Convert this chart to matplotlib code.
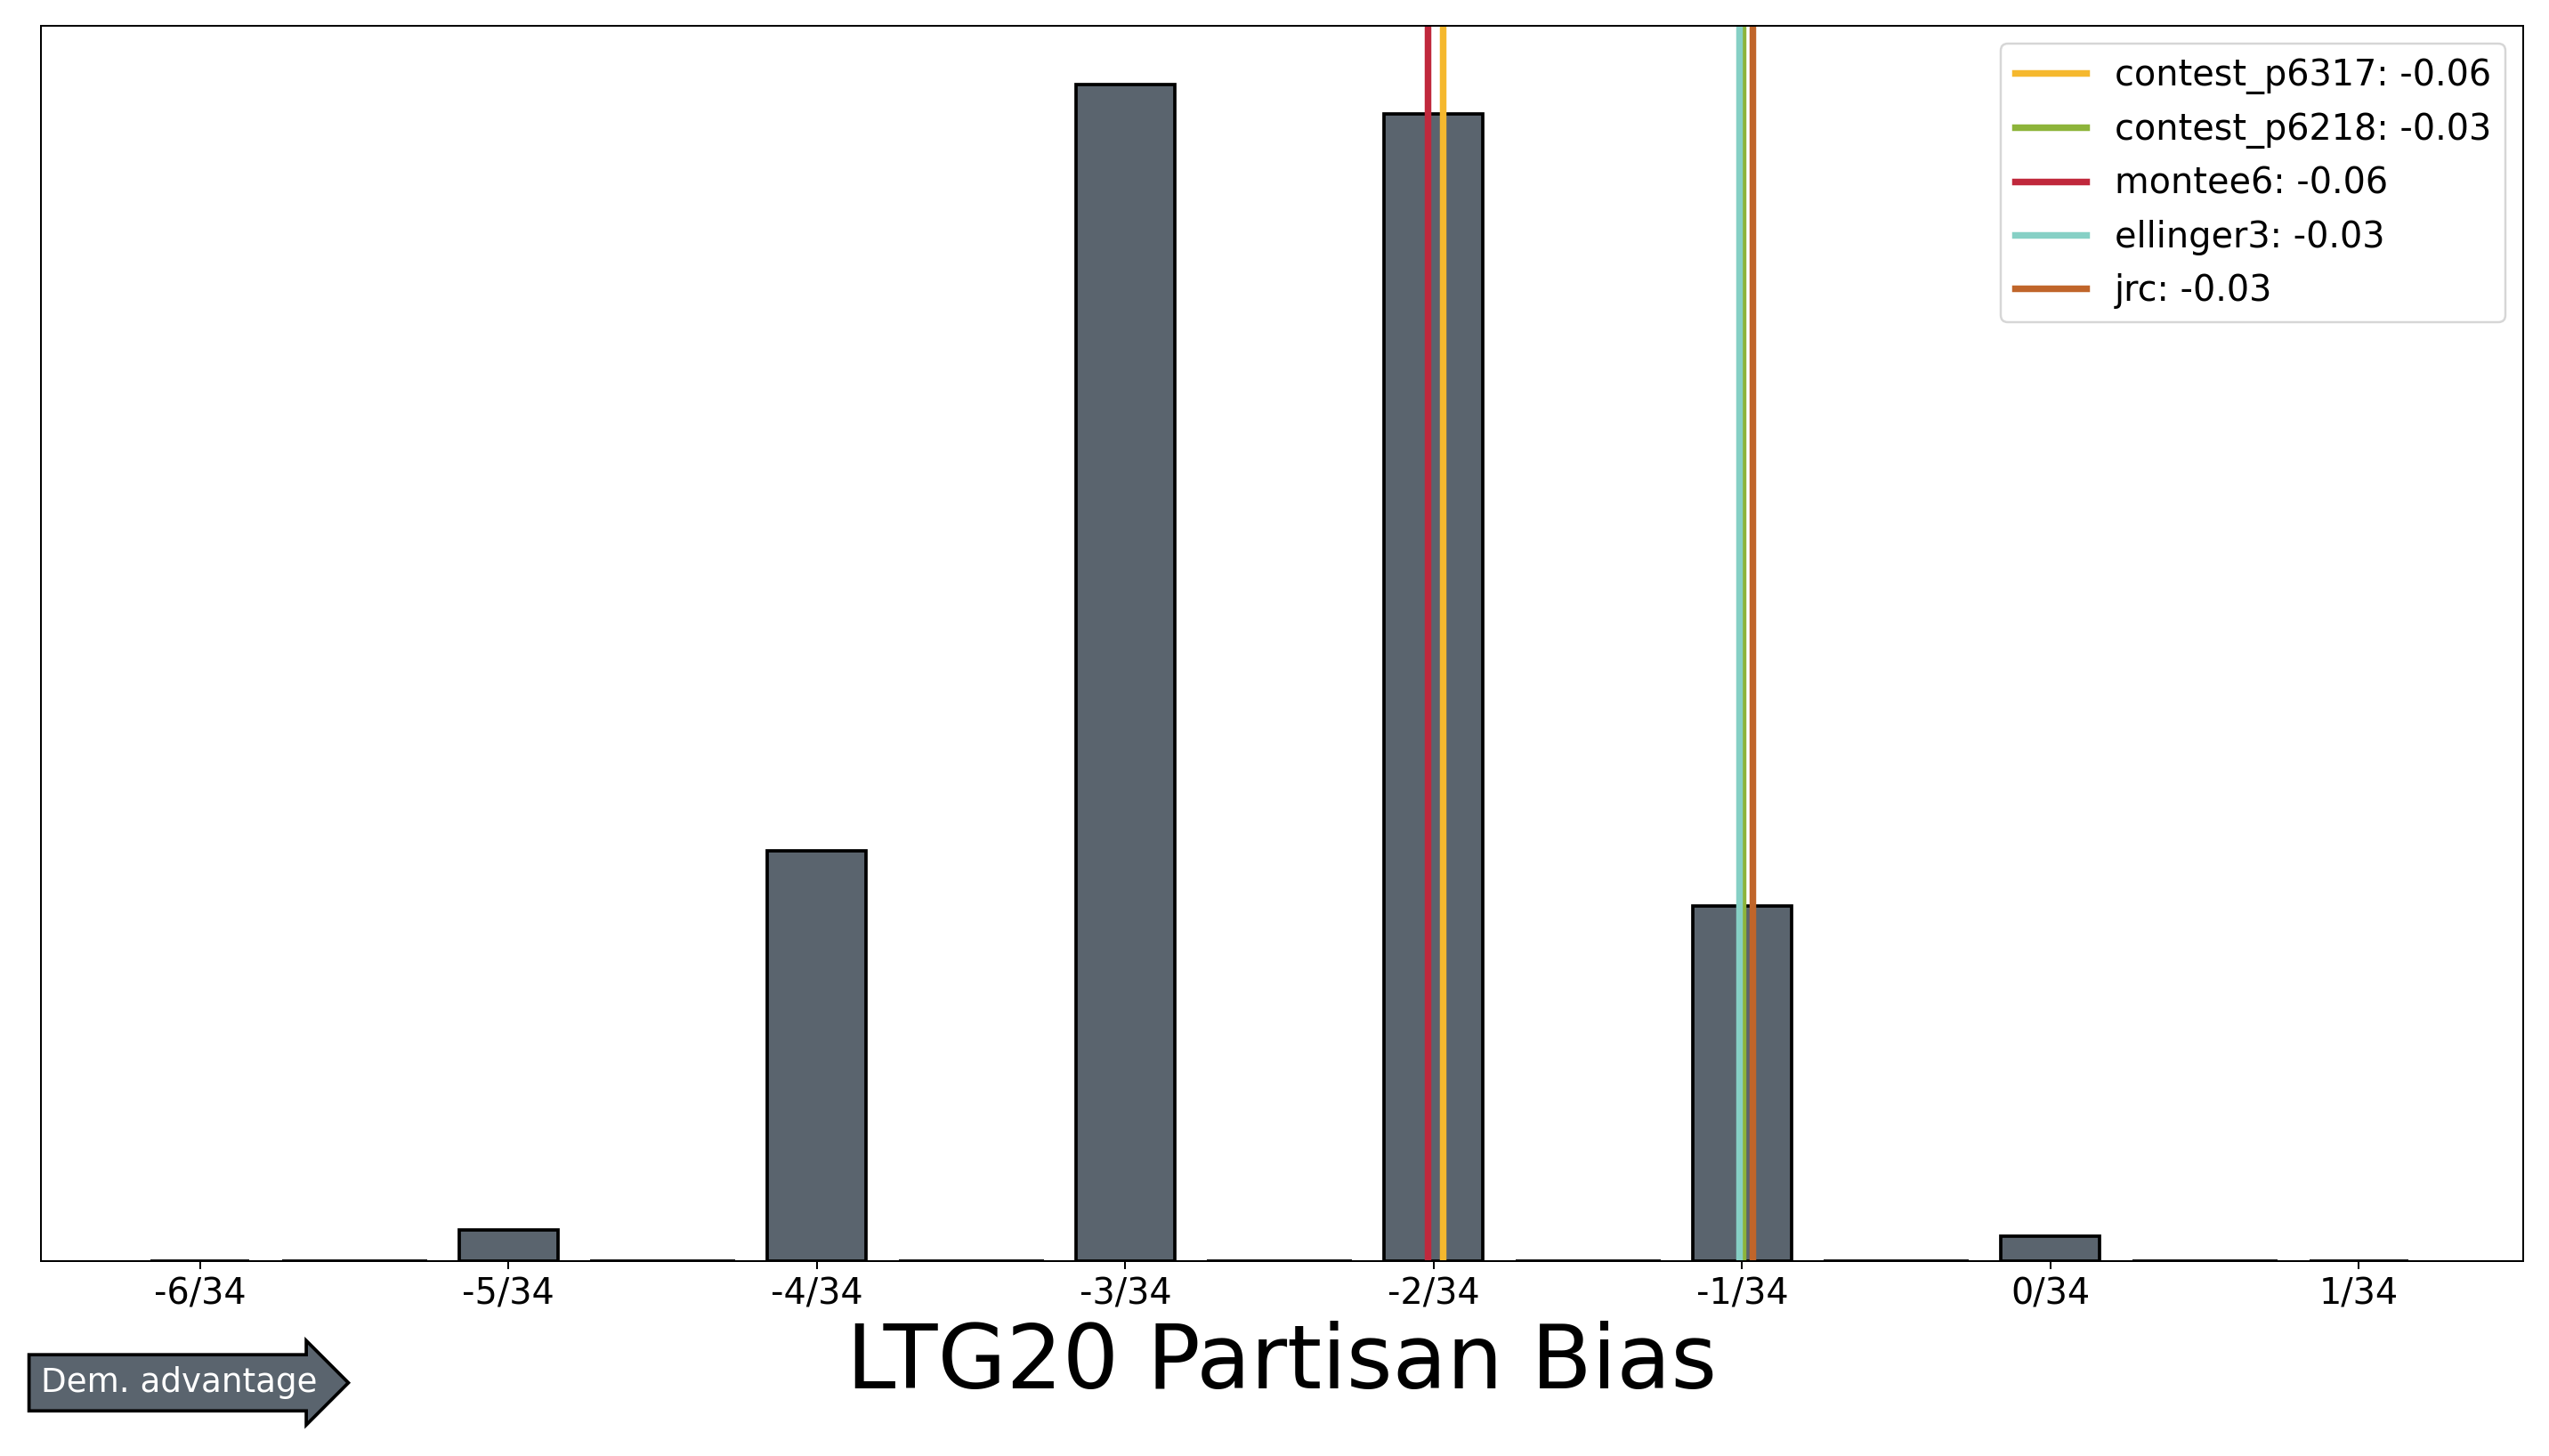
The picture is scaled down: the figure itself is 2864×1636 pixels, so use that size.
import numpy as np
import matplotlib.pyplot as plt

# histogram of partisan bias (seat units of 1/34)
bin_seats = [-6, -5, -4, -3, -2, -1, 0, 1]
bin_counts = [0, 19, 252, 723, 705, 218, 15, 0]
gap_seats = [-5.5, -4.5, -3.5, -2.5, -1.5, -0.5, 0.5]

plan_names = ['contest_p6317', 'contest_p6218', 'montee6', 'ellinger3', 'jrc']
plan_values = [-0.0580, -0.0294, -0.0594, -0.0297, -0.0284]
plan_labels = ['-0.06', '-0.03', '-0.06', '-0.03', '-0.03']
plan_colors = ['#f5b82e', '#8db43a', '#c0283c', '#86d0c5', '#c0652a']

fig = plt.figure(figsize=(16, 9.14), dpi=179)
ax = fig.add_axes([25/1568, 1 - 775/895, 1527/1568, 759/895])

centers = np.array(bin_seats) / 34
ax.bar(centers, bin_counts, width=0.32/34, color='#5a646e', edgecolor='black', linewidth=1.5)
ax.bar(np.array(gap_seats) / 34, [0]*len(gap_seats), width=0.47/34,
       color='#5a646e', edgecolor='black', linewidth=1.5)

for name, val, lab, col in zip(plan_names, plan_values, plan_labels, plan_colors):
    ax.axvline(val, color=col, linewidth=3, label=f'{name}: {lab}')

ax.set_xlim((-6 - 0.517)/34, (1 + 0.532)/34)
ax.set_ylim(0, 759)
ax.set_yticks([])
ax.set_xticks(centers)
ax.set_xticklabels([f'{s}/34' for s in bin_seats], fontsize=16)
ax.set_xlabel('LTG20 Partisan Bias', fontsize=40, labelpad=4)
ax.legend(loc='upper right', fontsize=16)

fig.text(25/1568, 1 - 850/895, 'Dem. advantage', fontsize=15, color='white', va='center',
         bbox=dict(boxstyle='rarrow,pad=0.35', fc='#5a646e', ec='black', lw=1.5))

fig.savefig('out.png', dpi=179)
